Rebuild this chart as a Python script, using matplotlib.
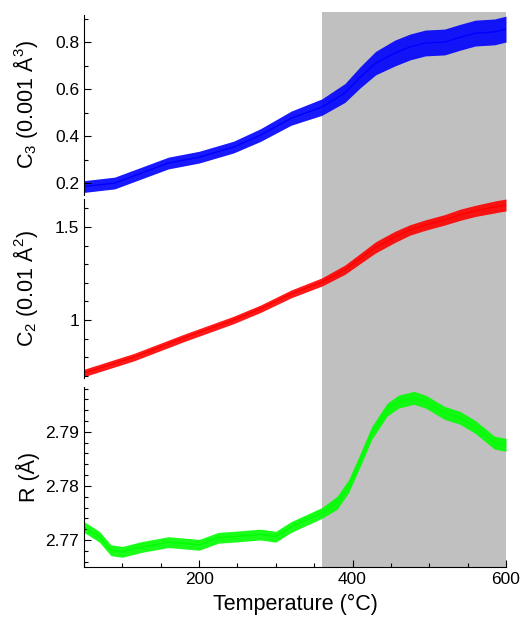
import numpy as np
import matplotlib
matplotlib.use('Agg')
import matplotlib.pyplot as plt
from matplotlib.ticker import MultipleLocator, FormatStrFormatter

plt.rcParams['font.family'] = ['Liberation Sans', 'DejaVu Sans']
plt.rcParams['mathtext.default'] = 'regular'

# readings: centre of the noisy trace and its half-width
t_c3 = [50, 90, 160, 200, 245, 280, 320, 360, 390, 410, 430, 455, 475, 495, 520, 540, 560, 585, 600]
c3 = [0.185, 0.20, 0.285, 0.31, 0.353, 0.404, 0.476, 0.523, 0.583, 0.65, 0.71, 0.753,
      0.779, 0.796, 0.80, 0.82, 0.838, 0.843, 0.855]
c3_spread = [0.025, 0.025, 0.025, 0.025, 0.025, 0.027, 0.03, 0.035, 0.04, 0.045, 0.05, 0.055,
             0.055, 0.055, 0.055, 0.055, 0.055, 0.055, 0.055]

t_c2 = [50, 115, 180, 245, 280, 320, 360, 390, 410, 430, 455, 475, 495, 520, 540, 560, 585, 600]
c2 = [0.715, 0.80, 0.903, 1.0, 1.06, 1.14, 1.204, 1.27, 1.33, 1.39, 1.446, 1.484, 1.51,
      1.538, 1.565, 1.586, 1.607, 1.618]
c2_spread = [0.02, 0.02, 0.02, 0.02, 0.02, 0.021, 0.022, 0.025, 0.027, 0.03, 0.03,
             0.028, 0.028, 0.028, 0.03, 0.03, 0.032, 0.032]

t_r = [50, 70, 85, 100, 125, 160, 200, 225, 245, 280, 300, 320, 360, 380, 395, 410, 425,
       445, 460, 480, 495, 520, 540, 560, 585, 600]
r = [2.7724, 2.7706, 2.7681, 2.7678, 2.7687, 2.7696, 2.7691, 2.7704, 2.7706, 2.7710,
     2.7706, 2.7724, 2.7750, 2.7769, 2.7800, 2.7848, 2.7898, 2.7941, 2.7956, 2.7963,
     2.7956, 2.7935, 2.7926, 2.7909, 2.7880, 2.7876]
r_spread = [0.001] * 13 + [0.0012] * 13

shade_range = (360, 600)

W, H = 521, 618
fig = plt.figure(figsize=(W / 100, H / 100), dpi=100)

def rect(top, bottom):
    return [84 / W, (H - bottom) / H, 422 / W, (bottom - top) / H]

# background axes for the continuous grey band
bg = fig.add_axes(rect(12, 567))
bg.set_xlim(50, 600)
bg.axvspan(*shade_range, color='#c0c0c0', lw=0)
bg.axis('off')

panels = [
    (rect(15, 195), t_c3, c3, c3_spread, '#0000ff', (0.149, 0.915), 0.2, 0.1,
     r'C$_3$ (0.001 Å$^3$)'),
    (rect(199, 378), t_c2, c2, c2_spread, '#ff0000', (0.688, 1.65), 0.5, 0.1,
     r'C$_2$ (0.01 Å$^2$)'),
    (rect(387, 567), t_r, r, r_spread, '#00ff00', (2.765, 2.7983), 0.01, 0.002,
     'R (Å)'),
]

axes = []
for pos, t, y, s, col, ylim, major, minor, label in panels:
    ax = fig.add_axes(pos)
    ax.patch.set_alpha(0)
    t = np.array(t)
    y = np.array(y)
    s = np.array(s)
    ax.fill_between(t, y - s, y + s, color=col, lw=0, alpha=0.9)
    ax.plot(t, y, color=col, lw=1)
    ax.set_xlim(50, 600)
    ax.set_ylim(*ylim)
    ax.yaxis.set_major_locator(MultipleLocator(major))
    ax.yaxis.set_minor_locator(MultipleLocator(minor))
    ax.yaxis.set_major_formatter(FormatStrFormatter('%g'))
    ax.xaxis.set_major_locator(MultipleLocator(200))
    ax.xaxis.set_minor_locator(MultipleLocator(50))
    ax.tick_params(which='both', direction='in', labelsize=12.5, width=0.8)
    ax.tick_params(which='major', length=5)
    ax.tick_params(which='minor', length=3)
    for side in ['top', 'right']:
        ax.spines[side].set_visible(False)
    ax.set_ylabel(label, fontsize=15.5)
    ax.yaxis.set_label_coords(-0.105, 0.5)
    axes.append(ax)

for ax in axes[:2]:
    ax.spines['bottom'].set_visible(False)
    ax.tick_params(axis='x', which='both', bottom=False, labelbottom=False)

axes[2].set_xlabel('Temperature (°C)', fontsize=15.5, labelpad=5)

fig.savefig('out.png', dpi=100)
